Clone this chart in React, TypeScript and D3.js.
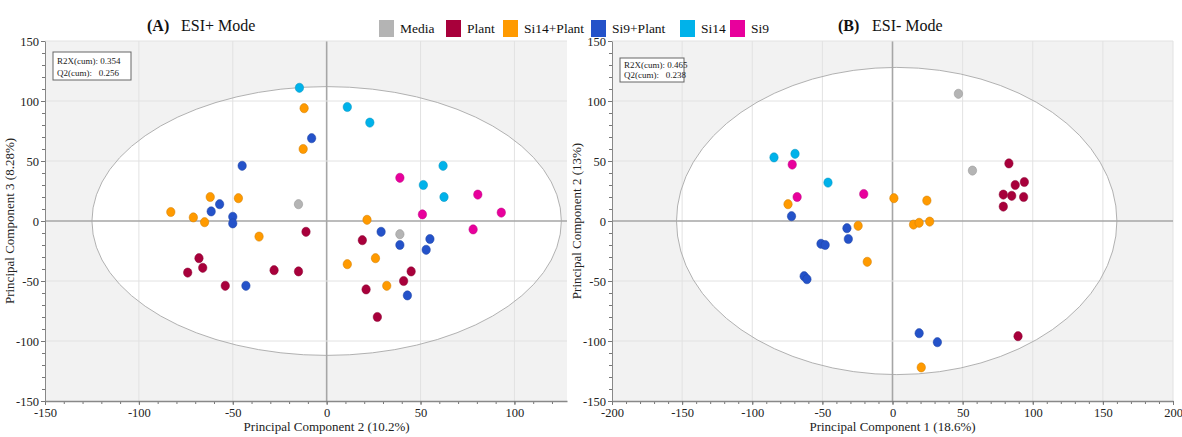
import React, { useEffect, useRef } from 'react';
import * as d3 from 'd3';

const groups = ['Media', 'Plant', 'Si14+Plant', 'Si9+Plant', 'Si14', 'Si9'];
const colors = ['#b4b4b4', '#a8003b', '#ff9a00', '#2452c9', '#00b2ea', '#e8009c'];

// ESI+ mode: PC2 (x) vs PC3 (y)
const posMedia = [[-15, 14], [39, -11]];
const posPlant = [[-11, -9], [-68, -31], [-66, -39], [-74, -43], [-28, -41], [-15, -42], [-54, -54], [19, -16], [45, -42], [41, -50], [21, -57], [27, -80]];
const posSi14Plant = [[-12, 94], [-12.5, 60], [-62, 20], [-47, 19], [-83, 7.5], [-71, 3], [-65, -1], [-36, -13], [21.5, 1], [26, -31], [11, -36], [32, -54]];
const posSi9Plant = [[-8, 69], [-45, 46], [-57, 14], [-61.5, 8], [-50, 3.5], [-50, -2], [-43, -54], [29, -9], [39, -20], [55, -15], [53, -24], [43, -62]];
const posSi14 = [[-14.5, 111], [11, 95], [23, 82], [62, 46], [51.5, 30], [62.5, 20]];
const posSi9 = [[39, 36], [80.5, 22], [93, 7], [51, 5.5], [78, -7]];

// ESI- mode: PC1 (x) vs PC2 (y)
const negMedia = [[47, 106], [57, 42]];
const negPlant = [[83, 48], [87.5, 30], [94, 32.5], [79, 22], [85, 21], [93.5, 20], [79, 12], [89.5, -96]];
const negSi14Plant = [[-74.5, 14], [1, 19], [24.5, 17], [15, -3], [19, -1.5], [26.5, -0.5], [-24.5, -4], [-18, -34], [20.5, -122]];
const negSi9Plant = [[-72, 4], [-32.5, -6], [-31.5, -15], [-51, -19], [-48, -20], [-63, -46], [-61, -48.5], [19, -93.5], [32, -101]];
const negSi14 = [[-84.5, 53], [-69.5, 56], [-46, 32]];
const negSi9 = [[-71.5, 47], [-68, 20], [-20.5, 22.5]];

const panels = [
  {
    title: '(A)', mode: 'ESI+ Mode',
    xLabel: 'Principal Component 2 (10.2%)', yLabel: 'Principal Component 3 (8.28%)',
    xDomain: [-150, 128], yDomain: [-150, 150],
    xTicks: [-150, -100, -50, 0, 50, 100], yTicks: [-150, -100, -50, 0, 50, 100, 150],
    ellipse: [0, 0, 125, 112],
    r2x: '0.354', q2: '0.256',
    series: [posMedia, posPlant, posSi14Plant, posSi9Plant, posSi14, posSi9],
    box: { left: 45, right: 567, top: 41, bottom: 401 },
    stats: { w: 78, h: 28 },
  },
  {
    title: '(B)', mode: 'ESI- Mode',
    xLabel: 'Principal Component 1 (18.6%)', yLabel: 'Principal Component 2 (13%)',
    xDomain: [-200, 200], yDomain: [-150, 150],
    xTicks: [-200, -150, -100, -50, 0, 50, 100, 150, 200], yTicks: [-150, -100, -50, 0, 50, 100, 150],
    ellipse: [3, 0, 157, 128],
    r2x: '0.465', q2: '0.238',
    series: [negMedia, negPlant, negSi14Plant, negSi9Plant, negSi14, negSi9],
    box: { left: 612, right: 1173, top: 41, bottom: 401 },
    stats: { w: 64, h: 24 },
  },
];

const FONT = "'Liberation Serif', 'Times New Roman', serif";

export default function App() {
  const ref = useRef<SVGSVGElement | null>(null);

  useEffect(() => {
    const svg = d3.select(ref.current);
    svg.selectAll('*').remove();

    panels.forEach((p, pi) => {
      const b = p.box;
      const x = d3.scaleLinear().domain(p.xDomain).range([b.left, b.right]);
      const y = d3.scaleLinear().domain(p.yDomain).range([b.bottom, b.top]);
      const g = svg.append('g');
      const clipId = `clip${pi}`;
      g.append('clipPath').attr('id', clipId).append('rect')
        .attr('x', b.left).attr('y', b.top).attr('width', b.right - b.left).attr('height', b.bottom - b.top);

      g.append('rect')
        .attr('x', b.left).attr('y', b.top).attr('width', b.right - b.left).attr('height', b.bottom - b.top)
        .attr('fill', '#f2f2f2');

      const [ecx, ecy, ea, eb] = p.ellipse;
      const ell = g.append('ellipse')
        .attr('cx', x(ecx)).attr('cy', y(ecy))
        .attr('rx', x(ecx + ea) - x(ecx)).attr('ry', y(ecy) - y(ecy + eb))
        .attr('fill', '#ffffff').attr('clip-path', `url(#${clipId})`);

      // grid
      p.xTicks.forEach(t => {
        if (t === p.xDomain[0]) return;
        g.append('line').attr('x1', x(t)).attr('x2', x(t)).attr('y1', b.top).attr('y2', b.bottom)
          .attr('stroke', t === 0 ? '#a6a6a6' : '#e2e2e2').attr('stroke-width', t === 0 ? 1.6 : 1);
      });
      p.yTicks.forEach(t => {
        if (t === p.yDomain[0]) return;
        g.append('line').attr('x1', b.left).attr('x2', b.right).attr('y1', y(t)).attr('y2', y(t))
          .attr('stroke', t === 0 ? '#a6a6a6' : '#e2e2e2').attr('stroke-width', t === 0 ? 1.6 : 1);
      });

      g.append('ellipse')
        .attr('cx', ell.attr('cx')).attr('cy', ell.attr('cy'))
        .attr('rx', ell.attr('rx')).attr('ry', ell.attr('ry'))
        .attr('fill', 'none').attr('stroke', '#a8a8a8').attr('stroke-width', 0.9)
        .attr('clip-path', `url(#${clipId})`);

      // axes
      const minorX = d3.range(p.xDomain[0], p.xDomain[1] + 0.01, 10);
      const minorY = d3.range(p.yDomain[0], p.yDomain[1] + 0.01, 10);
      const fmt = (d: number) => String(d);
      g.append('g').attr('transform', `translate(0,${b.bottom})`)
        .call(d3.axisBottom(x).tickValues(minorX).tickSize(3).tickFormat(() => ''))
        .call(a => a.select('.domain').remove())
        .call(a => a.selectAll('line').attr('stroke', '#777'));
      g.append('g').attr('transform', `translate(${b.left},0)`)
        .call(d3.axisLeft(y).tickValues(minorY).tickSize(3).tickFormat(() => ''))
        .call(a => a.select('.domain').remove())
        .call(a => a.selectAll('line').attr('stroke', '#777'));
      g.append('g').attr('transform', `translate(0,${b.bottom})`)
        .call(d3.axisBottom(x).tickValues(p.xTicks).tickSize(4).tickSizeOuter(0).tickPadding(3).tickFormat(fmt as any))
        .call(a => a.select('.domain').attr('stroke', '#888').attr('stroke-width', 1.5))
        .call(a => a.selectAll('line').attr('stroke', '#777'))
        .call(a => a.selectAll('text').attr('fill', '#222').attr('font-size', '12.5px').attr('font-family', FONT));
      g.append('g').attr('transform', `translate(${b.left},0)`)
        .call(d3.axisLeft(y).tickValues(p.yTicks).tickSize(4).tickSizeOuter(0).tickPadding(2).tickFormat(fmt as any))
        .call(a => a.select('.domain').attr('stroke', '#888').attr('stroke-width', 1))
        .call(a => a.selectAll('line').attr('stroke', '#777'))
        .call(a => a.selectAll('text').attr('fill', '#222').attr('font-size', '12.5px').attr('font-family', FONT));

      // axis titles
      g.append('text').attr('x', x(0)).attr('y', 431).attr('text-anchor', 'middle')
        .attr('font-family', FONT).attr('font-size', '13px').attr('fill', '#222').text(p.xLabel);
      g.append('text')
        .attr('transform', `translate(${b.left - 31},${(b.top + b.bottom) / 2}) rotate(-90)`)
        .attr('text-anchor', 'middle').attr('font-family', FONT).attr('font-size', '13px').attr('fill', '#222')
        .text(p.yLabel);

      // stats box
      const sx = b.left + 8, sy = b.top + (pi === 0 ? 11 : 17);
      g.append('rect').attr('x', sx).attr('y', sy).attr('width', p.stats.w).attr('height', p.stats.h)
        .attr('fill', '#fff').attr('stroke', '#666').attr('stroke-width', 1);
      g.append('text').attr('x', sx + 4).attr('y', sy + p.stats.h / 2 - 2)
        .attr('font-family', FONT).attr('font-size', '9px').attr('fill', '#222')
        .text(`R2X(cum): ${p.r2x}`);
      g.append('text').attr('x', sx + 4).attr('y', sy + p.stats.h - 4)
        .attr('font-family', FONT).attr('font-size', '9px').attr('fill', '#222').attr('xml:space', 'preserve')
        .text(`Q2(cum):   ${p.q2}`);

      // points
      p.series.forEach((pts, si) => {
        g.append('g').selectAll('ellipse').data(pts).join('ellipse')
          .attr('cx', d => x(d[0])).attr('cy', d => y(d[1]))
          .attr('rx', 4.2).attr('ry', 4.6)
          .attr('fill', colors[si])
          .attr('stroke', d3.color(colors[si])!.darker(0.6).toString()).attr('stroke-width', 0.5);
      });

      // title
      const tx = pi === 0 ? 147 : 838;
      g.append('text').attr('x', tx).attr('y', 31)
        .attr('font-family', FONT).attr('font-size', '16px').attr('font-weight', 'bold').attr('fill', '#111')
        .text(p.title);
      g.append('text').attr('x', tx + 34).attr('y', 31)
        .attr('font-family', FONT).attr('font-size', '16px').attr('fill', '#111')
        .text(p.mode);
    });

    // legend
    const legendX = [379, 446, 503, 591, 680, 730];
    const lg = svg.append('g');
    groups.forEach((name, i) => {
      lg.append('rect').attr('x', legendX[i]).attr('y', 20).attr('width', 15).attr('height', 17)
        .attr('fill', colors[i]);
      lg.append('text').attr('x', legendX[i] + 21).attr('y', 33)
        .attr('font-family', FONT).attr('font-size', '13.5px').attr('fill', '#111')
        .text(name);
    });
  }, []);

  return (
    <svg ref={ref} width={1182} height={437}
      style={{ position: 'fixed', left: 0, top: 0, background: '#fff' }} />
  );
}
